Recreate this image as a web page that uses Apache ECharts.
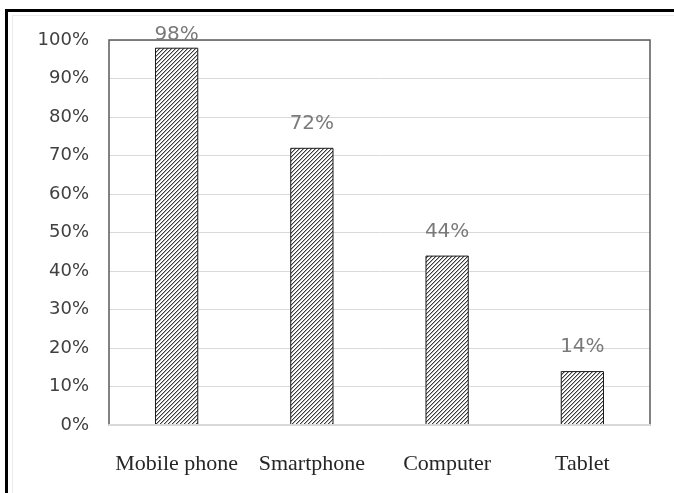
<!DOCTYPE html>
<html>
<head>
<meta charset="utf-8">
<script src="https://cdn.jsdelivr.net/npm/echarts@6/dist/echarts.min.js"></script>
<style>
html,body{margin:0;padding:0;background:#fff;overflow:hidden;}
#chart{position:absolute;left:0;top:0;width:674px;height:493px;}
#frame{position:absolute;left:5px;top:9px;width:700px;height:600px;border-left:3px solid #000;border-top:3px solid #000;pointer-events:none;}
#inner{position:absolute;left:12px;top:15px;width:700px;height:600px;border-left:1px solid #ececec;border-top:1px solid #ececec;pointer-events:none;}
</style>
</head>
<body>
<div id="chart"></div>
<div id="frame"></div>
<div id="inner"></div>
<script>
const categories = ['Mobile phone', 'Smartphone', 'Computer', 'Tablet'];
const values = [98, 72, 44, 14];
const yTicks = {min: 0, max: 100, interval: 10};

function hatch() {
  const n = 4;
  const c = document.createElement('canvas');
  c.width = n; c.height = n;
  const g = c.getContext('2d');
  g.fillStyle = '#ffffff';
  g.fillRect(0, 0, n, n);
  for (let i = 0; i < n; i++) {
    g.fillStyle = '#3c3c3c';
    g.fillRect(i, n - 1 - i, 1, 1);
    g.fillStyle = '#b0b0b0';
    g.fillRect(i, (n - i) % n, 1, 1);
  }
  return c;
}

const chart = echarts.init(document.getElementById('chart'));
chart.setOption({
  animation: false,
  grid: {left: 109, right: 24, top: 40, bottom: 68, show: true, borderColor: '#595959', borderWidth: 1.5, z: 1},
  xAxis: {
    type: 'category',
    data: categories,
    z: 3,
    axisLine: {show: true, lineStyle: {color: '#d9d9d9', width: 2}},
    axisTick: {show: false},
    axisLabel: {interval: 0, fontFamily: 'Liberation Serif', fontSize: 22, color: '#262626', margin: 28}
  },
  yAxis: {
    type: 'value',
    min: yTicks.min, max: yTicks.max, interval: yTicks.interval,
    axisLine: {show: false},
    axisTick: {show: false},
    splitLine: {lineStyle: {color: '#d9d9d9', width: 1}},
    axisLabel: {formatter: '{value}%', fontFamily: 'DejaVu Sans', fontSize: 18, color: '#404040', margin: 20}
  },
  series: [{
    type: 'bar',
    barWidth: '32%',
    z: 2,
    data: values.map((v, i) => ({
      value: v,
      label: {distance: i === 0 ? 3 : 14}
    })),
    itemStyle: {
      color: {image: hatch(), repetition: 'repeat'},
      borderColor: '#1a1a1a',
      borderWidth: 1
    },
    label: {
      show: true,
      position: 'top',
      formatter: '{c}%',
      fontFamily: 'DejaVu Sans',
      fontSize: 20,
      color: '#7a7a7a'
    }
  }]
});
</script>
</body>
</html>
